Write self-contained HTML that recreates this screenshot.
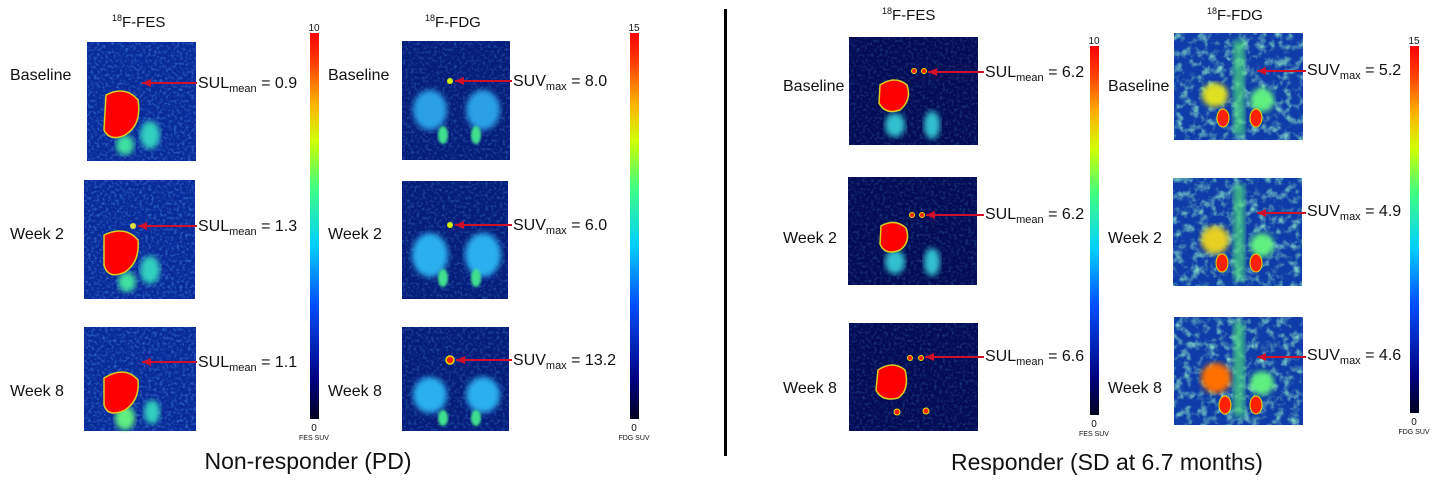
<!DOCTYPE html>
<html><head><meta charset="utf-8"><style>
html,body{margin:0;padding:0;background:#fff;}
svg{display:block;}
text{font-family:"Liberation Sans",Arial,sans-serif;fill:#111;}
</style></head><body>
<svg width="1440" height="490" viewBox="0 0 1440 490" xmlns="http://www.w3.org/2000/svg">
<defs>
<linearGradient id="jet" x1="0" y1="1" x2="0" y2="0">
<stop offset="0" stop-color="#000020"/><stop offset="0.1" stop-color="#00007f"/>
<stop offset="0.3" stop-color="#0050ff"/><stop offset="0.45" stop-color="#00d0ff"/>
<stop offset="0.6" stop-color="#40ff80"/><stop offset="0.72" stop-color="#d0ff00"/>
<stop offset="0.82" stop-color="#ffb000"/><stop offset="0.92" stop-color="#ff4000"/>
<stop offset="1" stop-color="#ff0000"/></linearGradient>
<filter id="noise" x="0" y="0" width="1" height="1">
<feTurbulence type="fractalNoise" baseFrequency="0.35" numOctaves="2" seed="3"/>
<feColorMatrix values="0 0 0 0 0.1  0 0 0 0 0.5  0 0 0 0 1  0 0 0 1.6 -0.75"/>
<feComposite in2="SourceGraphic" operator="in"/></filter>
<filter id="noise2" x="0" y="0" width="1" height="1">
<feTurbulence type="fractalNoise" baseFrequency="0.12" numOctaves="3" seed="7"/>
<feColorMatrix values="0 0 0 0 0.3  0 0 0 0 0.9  0 0 0 0 0.6  0 0 0 2.2 -1.0"/>
<feComposite in2="SourceGraphic" operator="in"/></filter>
<filter id="blur"><feGaussianBlur stdDeviation="3"/></filter>
<filter id="blur2"><feGaussianBlur stdDeviation="1.2"/></filter>
<marker id="ah" markerWidth="9" markerHeight="8" refX="9" refY="4" orient="auto" markerUnits="userSpaceOnUse"><path d="M0,0 L9,4 L0,8 z" fill="#d0102a"/></marker>
</defs>

<rect x="724" y="9" width="3" height="447" fill="#000"/>

<text x="112" y="27" font-size="15"><tspan font-size="9" dy="-6">18</tspan><tspan dy="6">F-FES</tspan></text>
<text x="425" y="27" font-size="15"><tspan font-size="9" dy="-6">18</tspan><tspan dy="6">F-FDG</tspan></text>

<g>
<rect x="87" y="42" width="109" height="119" fill="#0a2a9a"/>
<rect x="87" y="42" width="109" height="119" fill="#fff" filter="url(#noise)" opacity="0.7"/>
<ellipse cx="150" cy="135" rx="10" ry="14" fill="#30d0c0" filter="url(#blur)"/>
<ellipse cx="125" cy="145" rx="9" ry="10" fill="#40e0a0" filter="url(#blur)"/>
<path d="M106,95 Q125,85 138,100 Q142,125 125,135 Q110,142 104,130 Z" fill="#ff0000" stroke="#d8d020" stroke-width="1.5"/>
</g>
<g>
<rect x="84" y="180" width="111" height="119" fill="#0a2a9a"/>
<rect x="84" y="180" width="111" height="119" fill="#fff" filter="url(#noise)" opacity="0.7"/>
<ellipse cx="150" cy="270" rx="10" ry="14" fill="#30d0c0" filter="url(#blur)"/>
<ellipse cx="127" cy="282" rx="9" ry="10" fill="#40e0a0" filter="url(#blur)"/>
<circle cx="133" cy="226" r="3" fill="#e0e040"/>
<path d="M104,235 Q125,225 138,240 Q140,262 125,272 Q108,280 104,265 Z" fill="#ff0000" stroke="#d8d020" stroke-width="1.5"/>
</g>
<g>
<rect x="84" y="327" width="112" height="104" fill="#0a2a9a"/>
<rect x="84" y="327" width="112" height="104" fill="#fff" filter="url(#noise)" opacity="0.7"/>
<ellipse cx="152" cy="412" rx="8" ry="12" fill="#30d0c0" filter="url(#blur)"/>
<ellipse cx="125" cy="418" rx="10" ry="12" fill="#60f080" filter="url(#blur)"/>
<path d="M104,378 Q125,365 138,380 Q140,400 125,410 Q108,418 104,405 Z" fill="#ff0000" stroke="#d8d020" stroke-width="1.5"/>
</g>

<g>
<rect x="402" y="41" width="108" height="119" fill="#061c7a"/>
<rect x="402" y="41" width="108" height="119" fill="#fff" filter="url(#noise)" opacity="0.5"/>
<ellipse cx="430" cy="110" rx="17" ry="20" fill="#2aa0e8" filter="url(#blur)"/>
<ellipse cx="483" cy="110" rx="17" ry="20" fill="#2aa0e8" filter="url(#blur)"/>
<ellipse cx="443" cy="135" rx="5" ry="9" fill="#40e090" filter="url(#blur2)"/>
<ellipse cx="476" cy="135" rx="5" ry="9" fill="#40e090" filter="url(#blur2)"/>
<circle cx="450" cy="81" r="3" fill="#d0f000"/>
</g>
<g>
<rect x="402" y="181" width="106" height="118" fill="#061c7a"/>
<rect x="402" y="181" width="106" height="118" fill="#fff" filter="url(#noise)" opacity="0.5"/>
<ellipse cx="430" cy="255" rx="18" ry="22" fill="#2ab0f0" filter="url(#blur)"/>
<ellipse cx="483" cy="255" rx="18" ry="22" fill="#2ab0f0" filter="url(#blur)"/>
<ellipse cx="443" cy="278" rx="5" ry="9" fill="#40e090" filter="url(#blur2)"/>
<ellipse cx="476" cy="278" rx="5" ry="9" fill="#40e090" filter="url(#blur2)"/>
<circle cx="450" cy="225" r="3" fill="#d0f000"/>
</g>
<g>
<rect x="402" y="327" width="107" height="104" fill="#061c7a"/>
<rect x="402" y="327" width="107" height="104" fill="#fff" filter="url(#noise)" opacity="0.5"/>
<ellipse cx="430" cy="395" rx="17" ry="18" fill="#2ab0f0" filter="url(#blur)"/>
<ellipse cx="483" cy="395" rx="17" ry="18" fill="#2ab0f0" filter="url(#blur)"/>
<ellipse cx="443" cy="418" rx="5" ry="8" fill="#40e090" filter="url(#blur2)"/>
<ellipse cx="476" cy="418" rx="5" ry="8" fill="#40e090" filter="url(#blur2)"/>
<circle cx="450" cy="360" r="4" fill="#ff2000" stroke="#e0e000" stroke-width="1.5"/>
</g>

<g font-size="16">
<text x="10" y="80">Baseline</text><text x="10" y="239">Week 2</text><text x="10" y="396">Week 8</text>
<text x="328" y="80">Baseline</text><text x="328" y="239">Week 2</text><text x="328" y="396">Week 8</text>
</g>
<g stroke="#d0102a" stroke-width="2">
<line x1="197" y1="83" x2="142" y2="83" marker-end="url(#ah)"/>
<line x1="197" y1="226" x2="138" y2="226" marker-end="url(#ah)"/>
<line x1="197" y1="362" x2="142" y2="362" marker-end="url(#ah)"/>
<line x1="512" y1="81" x2="455" y2="81" marker-end="url(#ah)"/>
<line x1="512" y1="225" x2="455" y2="225" marker-end="url(#ah)"/>
<line x1="512" y1="360" x2="456" y2="360" marker-end="url(#ah)"/>
</g>
<g font-size="16">
<text x="198" y="88">SUL<tspan font-size="11" dy="4">mean</tspan><tspan dy="-4"> = 0.9</tspan></text>
<text x="198" y="231">SUL<tspan font-size="11" dy="4">mean</tspan><tspan dy="-4"> = 1.3</tspan></text>
<text x="198" y="367">SUL<tspan font-size="11" dy="4">mean</tspan><tspan dy="-4"> = 1.1</tspan></text>
<text x="513" y="86">SUV<tspan font-size="11" dy="4">max</tspan><tspan dy="-4"> = 8.0</tspan></text>
<text x="513" y="230">SUV<tspan font-size="11" dy="4">max</tspan><tspan dy="-4"> = 6.0</tspan></text>
<text x="513" y="365">SUV<tspan font-size="11" dy="4">max</tspan><tspan dy="-4"> = 13.2</tspan></text>
</g>
<rect x="310" y="33" width="9" height="386" fill="url(#jet)"/>
<text x="314" y="31" font-size="10" text-anchor="middle">10</text>
<text x="314" y="431" font-size="10" text-anchor="middle">0</text>
<text x="314" y="440" font-size="7" text-anchor="middle">FES SUV</text>
<rect x="630" y="33" width="9" height="386" fill="url(#jet)"/>
<text x="634" y="31" font-size="10" text-anchor="middle">15</text>
<text x="634" y="431" font-size="10" text-anchor="middle">0</text>
<text x="634" y="440" font-size="7" text-anchor="middle">FDG SUV</text>
<text x="308" y="469" font-size="23" text-anchor="middle">Non-responder (PD)</text>

<text x="882" y="20" font-size="15"><tspan font-size="9" dy="-6">18</tspan><tspan dy="6">F-FES</tspan></text>
<text x="1207" y="20" font-size="15"><tspan font-size="9" dy="-6">18</tspan><tspan dy="6">F-FDG</tspan></text>

<g>
<rect x="849" y="37" width="129" height="108" fill="#030c55"/>
<rect x="849" y="37" width="129" height="108" fill="#fff" filter="url(#noise)" opacity="0.4"/>
<ellipse cx="895" cy="125" rx="10" ry="12" fill="#30c0d0" filter="url(#blur)"/>
<ellipse cx="932" cy="125" rx="8" ry="14" fill="#30c0d0" filter="url(#blur)"/>
<path d="M880,85 Q895,75 907,85 Q912,100 900,110 Q885,115 879,103 Z" fill="#ff0000" stroke="#d8d020" stroke-width="1.5"/>
<circle cx="914" cy="71" r="2.5" fill="#ff2000" stroke="#e0e000"/><circle cx="924" cy="71" r="2.5" fill="#ff2000" stroke="#e0e000"/>
</g>
<g>
<rect x="848" y="177" width="129" height="108" fill="#030c55"/>
<rect x="848" y="177" width="129" height="108" fill="#fff" filter="url(#noise)" opacity="0.4"/>
<ellipse cx="895" cy="262" rx="10" ry="12" fill="#30c0d0" filter="url(#blur)"/>
<ellipse cx="932" cy="262" rx="8" ry="14" fill="#30c0d0" filter="url(#blur)"/>
<path d="M881,226 Q895,218 906,228 Q911,242 900,250 Q885,256 880,244 Z" fill="#ff0000" stroke="#d8d020" stroke-width="1.5"/>
<circle cx="912" cy="215" r="2.5" fill="#ff2000" stroke="#e0e000"/><circle cx="922" cy="215" r="2.5" fill="#ff2000" stroke="#e0e000"/>
</g>
<g>
<rect x="849" y="323" width="129" height="108" fill="#030c55"/>
<rect x="849" y="323" width="129" height="108" fill="#fff" filter="url(#noise)" opacity="0.4"/>
<path d="M878,370 Q893,360 905,370 Q910,390 898,398 Q882,402 876,390 Z" fill="#ff0000" stroke="#d8d020" stroke-width="1.5"/>
<circle cx="897" cy="412" r="3" fill="#ff2000" stroke="#e0e000"/><circle cx="926" cy="411" r="3" fill="#ff2000" stroke="#e0e000"/>
<circle cx="910" cy="358" r="2.5" fill="#ff2000" stroke="#e0e000"/><circle cx="921" cy="358" r="2.5" fill="#ff2000" stroke="#e0e000"/>
</g>

<g>
<rect x="1174" y="33" width="129" height="107" fill="#0e3ca8"/>
<rect x="1174" y="33" width="129" height="107" fill="#fff" filter="url(#noise2)" opacity="0.9"/>
<rect x="1233" y="40" width="12" height="95" fill="#50e080" filter="url(#blur)" opacity="0.7"/>
<ellipse cx="1215" cy="95" rx="13" ry="12" fill="#e0e020" filter="url(#blur)"/>
<ellipse cx="1262" cy="100" rx="12" ry="12" fill="#60f080" filter="url(#blur)"/>
<ellipse cx="1223" cy="118" rx="6" ry="9" fill="#ff2000" stroke="#e0e000"/>
<ellipse cx="1256" cy="118" rx="6" ry="9" fill="#ff2000" stroke="#e0e000"/>
</g>
<g>
<rect x="1173" y="178" width="129" height="108" fill="#0e3ca8"/>
<rect x="1173" y="178" width="129" height="108" fill="#fff" filter="url(#noise2)" opacity="0.9"/>
<rect x="1233" y="185" width="12" height="95" fill="#50e080" filter="url(#blur)" opacity="0.7"/>
<ellipse cx="1215" cy="240" rx="14" ry="14" fill="#e8d020" filter="url(#blur)"/>
<ellipse cx="1262" cy="245" rx="12" ry="12" fill="#60f080" filter="url(#blur)"/>
<ellipse cx="1222" cy="263" rx="6" ry="9" fill="#ff2000" stroke="#e0e000"/>
<ellipse cx="1256" cy="263" rx="6" ry="9" fill="#ff2000" stroke="#e0e000"/>
</g>
<g>
<rect x="1174" y="317" width="129" height="108" fill="#0e3ca8"/>
<rect x="1174" y="317" width="129" height="108" fill="#fff" filter="url(#noise2)" opacity="0.9"/>
<rect x="1233" y="322" width="12" height="95" fill="#50e080" filter="url(#blur)" opacity="0.7"/>
<ellipse cx="1216" cy="378" rx="15" ry="15" fill="#ff7000" filter="url(#blur)"/>
<ellipse cx="1262" cy="383" rx="12" ry="12" fill="#60f080" filter="url(#blur)"/>
<ellipse cx="1225" cy="405" rx="6" ry="9" fill="#ff2000" stroke="#e0e000"/>
<ellipse cx="1256" cy="405" rx="6" ry="9" fill="#ff2000" stroke="#e0e000"/>
</g>

<g font-size="16">
<text x="783" y="91">Baseline</text><text x="783" y="243">Week 2</text><text x="783" y="393">Week 8</text>
<text x="1108" y="91">Baseline</text><text x="1108" y="243">Week 2</text><text x="1108" y="393">Week 8</text>
</g>
<g stroke="#d0102a" stroke-width="2">
<line x1="984" y1="72" x2="928" y2="72" marker-end="url(#ah)"/>
<line x1="984" y1="215" x2="926" y2="215" marker-end="url(#ah)"/>
<line x1="984" y1="357" x2="925" y2="357" marker-end="url(#ah)"/>
<line x1="1306" y1="71" x2="1257" y2="71" marker-end="url(#ah)"/>
<line x1="1306" y1="213" x2="1257" y2="213" marker-end="url(#ah)"/>
<line x1="1306" y1="357" x2="1257" y2="357" marker-end="url(#ah)"/>
</g>
<g font-size="16">
<text x="985" y="77">SUL<tspan font-size="11" dy="4">mean</tspan><tspan dy="-4"> = 6.2</tspan></text>
<text x="985" y="219">SUL<tspan font-size="11" dy="4">mean</tspan><tspan dy="-4"> = 6.2</tspan></text>
<text x="985" y="361">SUL<tspan font-size="11" dy="4">mean</tspan><tspan dy="-4"> = 6.6</tspan></text>
<text x="1307" y="75">SUV<tspan font-size="11" dy="4">max</tspan><tspan dy="-4"> = 5.2</tspan></text>
<text x="1307" y="216">SUV<tspan font-size="11" dy="4">max</tspan><tspan dy="-4"> = 4.9</tspan></text>
<text x="1307" y="360">SUV<tspan font-size="11" dy="4">max</tspan><tspan dy="-4"> = 4.6</tspan></text>
</g>
<rect x="1090" y="46" width="9" height="369" fill="url(#jet)"/>
<text x="1094" y="44" font-size="10" text-anchor="middle">10</text>
<text x="1094" y="427" font-size="10" text-anchor="middle">0</text>
<text x="1094" y="436" font-size="7" text-anchor="middle">FES SUV</text>
<rect x="1410" y="46" width="9" height="367" fill="url(#jet)"/>
<text x="1414" y="44" font-size="10" text-anchor="middle">15</text>
<text x="1414" y="425" font-size="10" text-anchor="middle">0</text>
<text x="1414" y="434" font-size="7" text-anchor="middle">FDG SUV</text>
<text x="1107" y="470" font-size="23" text-anchor="middle">Responder (SD at 6.7 months)</text>
</svg>
</body></html>
